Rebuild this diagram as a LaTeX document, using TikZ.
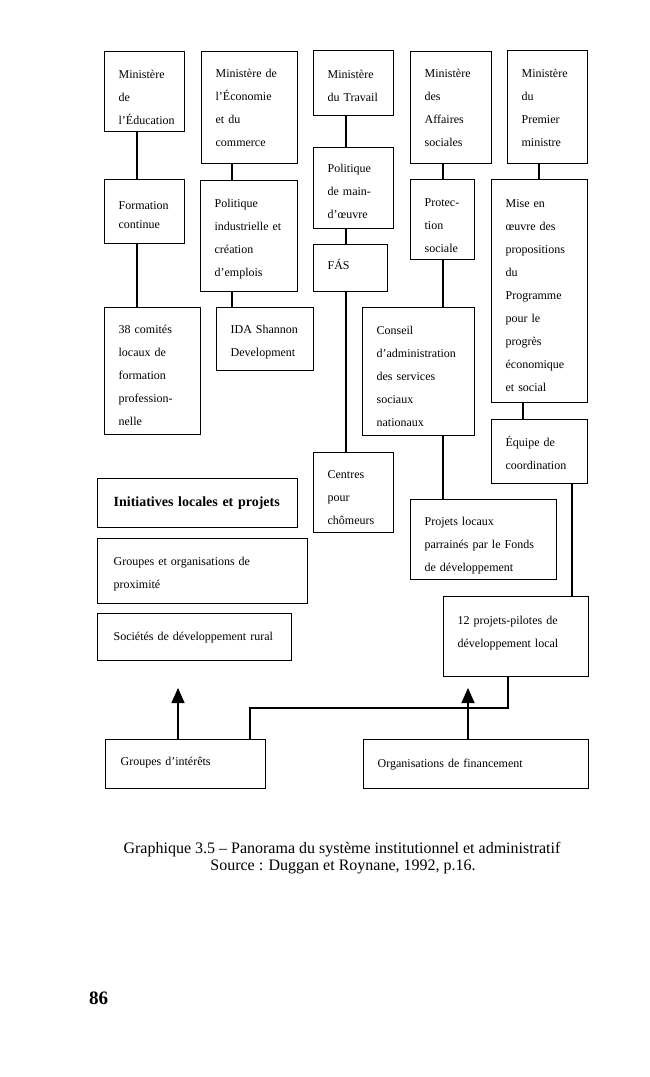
\documentclass[tikz,border=0pt]{standalone}
\usepackage{fontspec}
\setmainfont{Liberation Serif}
\usetikzlibrary{arrows.meta}
\begin{document}
\begin{tikzpicture}[x=1pt,y=-1pt,
  box/.style={draw, line width=1.3pt, anchor=north west, inner xsep=14pt, inner ysep=0pt,
    align=left, font=\fontsize{12}{23}\selectfont},
  th/.style={text height=#1pt},
  conn/.style={draw, line width=1.5pt},
  arr/.style={draw, line width=1.5pt, -{Triangle[width=13pt,length=15pt]}},
  capt/.style={font=\fontsize{16}{18}\selectfont, anchor=base, inner sep=0pt}]
\useasboundingbox (0,0) rectangle (650,1077);

% row 1: ministries
\node[box, th=20.3, text width=52pt, minimum height=80pt] (edu) at (104,51) {Ministère\\de\\l’Éducation};
\node[box, text width=68pt, minimum height=112pt] (eco) at (201,51) {Ministère de\\l’Économie\\et du\\commerce};
\node[box, th=14.3, text width=52pt, minimum height=65pt] (trav) at (313,50) {Ministère\\du Travail};
\node[box, text width=53pt, minimum height=112pt] (aff) at (410,51) {Ministère\\des\\Affaires\\sociales};
\node[box, th=10.3, text width=52pt, minimum height=113pt] (prem) at (507,50) {Ministère\\du\\Premier\\ministre};

% row 2
\node[box, th=14.3, text width=52pt, minimum height=64pt, font=\fontsize{12}{19}\selectfont] (form) at (104,179) {Formation\\continue};
\node[box, th=14.3, text width=69pt, minimum height=111pt] (polind) at (200,180) {Politique\\industrielle et\\création\\d’emplois};
\node[box, th=14.3, text width=52pt, minimum height=81pt] (polmo) at (313,147) {Politique\\de main-\\d’œuvre};
\node[box, th=2.5, text width=46pt, minimum height=47pt] (fas) at (313,244) {FÁS};
\node[box, th=20.3, text width=36pt, minimum height=80pt] (prot) at (410,179) {Protec-\\tion\\sociale};
\node[box, th=16.3, text width=68pt, minimum height=223pt] (mise) at (491,179) {Mise en\\œuvre des\\propositions\\du\\Programme\\pour le\\progrès\\économique\\et social};

% row 3
\node[box, th=16.3, text width=68pt, minimum height=127pt] (comites) at (104,307) {38 comités\\locaux de\\formation\\profession-\\nelle};
\node[box, th=14.3, text width=69pt, minimum height=63pt] (ida) at (216,307) {IDA Shannon\\Development};
\node[box, th=18.3, text width=84pt, minimum height=128pt] (conseil) at (362,307) {Conseil\\d’administration\\des services\\sociaux\\nationaux};
\node[box, th=12.5, text width=68pt, minimum height=64pt] (equipe) at (491,419) {Équipe de\\coordination};
\node[box, th=18.3, text width=52pt, minimum height=80pt] (centres) at (313,452) {Centres\\pour\\chômeurs};

% lower left group
\node[box, text width=168pt, inner xsep=16pt, minimum height=49pt, font=\fontsize{14}{17}\selectfont\bfseries] (init) at (97,478) {Initiatives locales et projets};
\node[box, th=14.3, text width=178pt, inner xsep=16pt, minimum height=65pt] (grp) at (97,538) {Groupes et organisations de\\proximité};
\node[box, text width=162pt, inner xsep=16pt, minimum height=47pt] (soc) at (97,613) {Sociétés de développement rural};

% lower right
\node[box, th=20.3, text width=118pt, minimum height=80pt] (projloc) at (410,499) {Projets locaux\\parrainés par le Fonds\\de développement};
\node[box, th=0.3, text width=117pt, minimum height=80pt] (pilotes) at (443,596) {12 projets-pilotes de\\développement local};

% bottom
\node[box, th=4.3, text width=130pt, inner xsep=15pt, minimum height=49pt] (gint) at (105,739) {Groupes d’intérêts};
\node[box, text width=197pt, minimum height=49pt] (org) at (363,739) {Organisations de financement};

% vertical line positions
\coordinate (v137) at (137,0);
\coordinate (v232) at (232,0);
\coordinate (v346) at (346,0);
\coordinate (v443) at (443,0);
\coordinate (v539) at (539,0);
\coordinate (v523) at (523,0);
\coordinate (v572) at (572,0);
\coordinate (v508) at (508,0);
\coordinate (v250) at (250,0);
\coordinate (hline) at (0,708);

\draw[conn] (edu.south -| v137) -- (form.north -| v137);
\draw[conn] (form.south -| v137) -- (comites.north -| v137);
\draw[conn] (eco.south -| v232) -- (polind.north -| v232);
\draw[conn] (polind.south -| v232) -- (ida.north -| v232);
\draw[conn] (trav.south -| v346) -- (polmo.north -| v346);
\draw[conn] (polmo.south -| v346) -- (fas.north -| v346);
\draw[conn] (fas.south -| v346) -- (centres.north -| v346);
\draw[conn] (aff.south -| v443) -- (prot.north -| v443);
\draw[conn] (prot.south -| v443) -- (conseil.north -| v443);
\draw[conn] (conseil.south -| v443) -- (projloc.north -| v443);
\draw[conn] (prem.south -| v539) -- (mise.north -| v539);
\draw[conn] (mise.south -| v523) -- (equipe.north -| v523);
\draw[conn] (equipe.south -| v572) -- (pilotes.north -| v572);
\draw[conn] (pilotes.south -| v508) -- (v508 |- hline) -| (gint.north -| v250);

% arrows
\coordinate (a1) at (178,688);
\coordinate (a2) at (468,688);
\draw[arr] (gint.north -| a1) -- (a1);
\draw[arr] (org.north -| a2) -- (a2);

% caption
\node[capt] (cap1) at (342,853) {Graphique 3.5 – Panorama du système institutionnel et administratif};
\node[capt] (cap2) at (343,870) {Source : Duggan et Roynane, 1992, p.16.};
\node[font=\fontsize{19}{22}\selectfont\bfseries, anchor=base west, inner sep=0pt] (page) at (89,1004) {86};
\end{tikzpicture}
\end{document}
